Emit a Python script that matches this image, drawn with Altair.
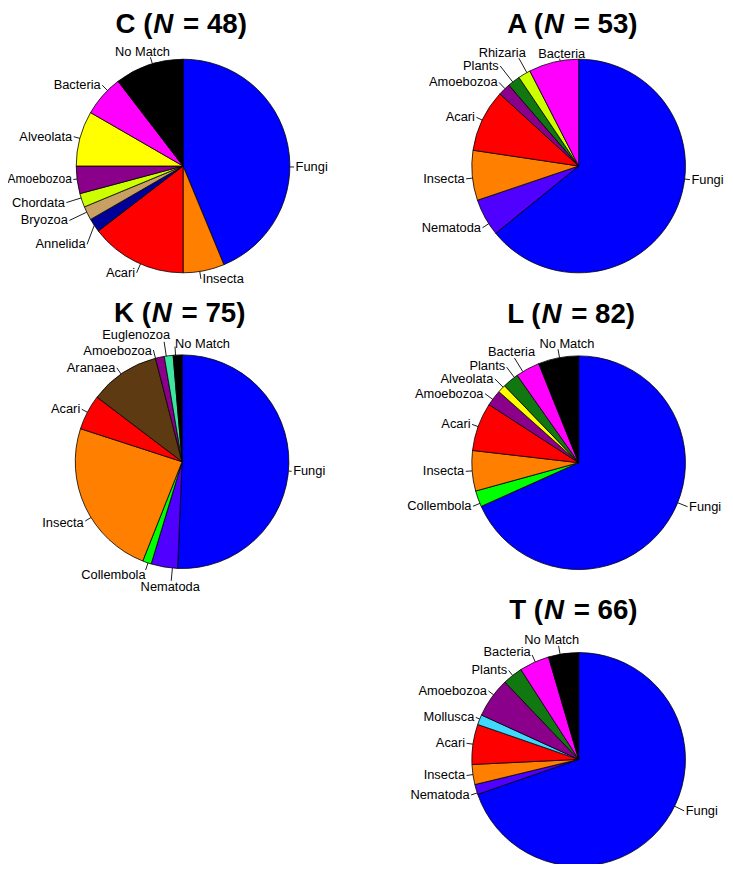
import math
import altair as alt
import pandas as pd

# ---------------- data ----------------
panel_names = ["C", "A", "K", "L", "T"]
panel_n = [48, 53, 75, 82, 66]

C_taxa = ["Fungi", "Insecta", "Acari", "Annelida", "Bryozoa", "Chordata",
          "Amoebozoa", "Alveolata", "Bacteria", "No Match"]
C_counts = [21, 3, 7, 1, 1, 1, 2, 4, 3, 5]

A_taxa = ["Fungi", "Nematoda", "Insecta", "Acari", "Amoebozoa", "Plants",
          "Rhizaria", "Bacteria"]
A_counts = [34, 3, 4, 5, 1, 1, 1, 4]

K_taxa = ["Fungi", "Nematoda", "Collembola", "Insecta", "Acari", "Aranaea",
          "Amoebozoa", "Euglenozoa", "No Match"]
K_counts = [38, 3, 1, 18, 4, 8, 1, 1, 1]

L_taxa = ["Fungi", "Collembola", "Insecta", "Acari", "Amoebozoa", "Alveolata",
          "Plants", "Bacteria", "No Match"]
L_counts = [56, 2, 5, 6, 2, 1, 2, 3, 5]

T_taxa = ["Fungi", "Nematoda", "Insecta", "Acari", "Mollusca", "Amoebozoa",
          "Plants", "Bacteria", "No Match"]
T_counts = [46, 1, 2, 4, 1, 4, 2, 3, 3]

panel_taxa = {"C": C_taxa, "A": A_taxa, "K": K_taxa, "L": L_taxa, "T": T_taxa}
panel_counts = {"C": C_counts, "A": A_counts, "K": K_counts, "L": L_counts, "T": T_counts}

# ---------------- styles ----------------
COLORS = {
    "Fungi": "#0000FF", "Insecta": "#FF8000", "Acari": "#FF0000",
    "Annelida": "#000099", "Bryozoa": "#C8A064", "Chordata": "#CCFF00",
    "Amoebozoa": "#8B008B", "Alveolata": "#FFFF00", "Bacteria": "#FF00FF",
    "No Match": "#000000", "Nematoda": "#5000FF", "Plants": "#117711",
    "Rhizaria": "#CCFF00", "Collembola": "#00FF00", "Aranaea": "#5E3A12",
    "Euglenozoa": "#3CE6A0", "Mollusca": "#40D8FF",
}

# ---------------- layout (page pixels) ----------------
M = 8  # page margin
CENTERS = {"C": (185, 163), "A": (585, 163), "K": (184, 462),
           "L": (585, 463), "T": (585, 763)}
RADIUS = 108
TITLE_POS = {"C": (165, 28.5), "A": (560, 28.5), "K": (163.5, 321),
             "L": (557.5, 322), "T": (560, 621)}
FONT = "Liberation Sans"
LABEL_SIZE = 13
TITLE_SIZE = 28

# label placement hints: la = label angle (deg, clockwise from top),
# lr = label radius factor, align / base / dx / dy / fs = text placement
LABEL_LAYOUT = {
    "C": {
        "Fungi": dict(la=90.5, lr=1.04),
        "Insecta": dict(la=171, lr=1.07),
        "Acari": dict(la=203.5, lr=1.09),
        "Annelida": dict(la=230.8, lr=1.16),
        "Bryozoa": dict(la=244.4, lr=1.18),
        "Chordata": dict(la=252.6, lr=1.145),
        "Amoebozoa": dict(la=263, lr=1.035, fs=12.2),
        "Bacteria": dict(la=315, lr=1.07),
        "No Match": dict(la=343.3, lr=1.063, align="center", base="alphabetic", dx=-8, dy=-1),
    },
    "A": {
        "Fungi": dict(la=97, lr=1.05),
        "Nematoda": dict(la=237.3, lr=1.07),
        "Insecta": dict(la=263.5, lr=1.06),
        "Amoebozoa": dict(la=316.4, lr=1.08),
        "Plants": dict(la=321.9, lr=1.19),
        "Rhizaria": dict(la=331, lr=1.154, align="right", base="alphabetic", dx=7, dy=-1),
        "Bacteria": dict(la=350, lr=1.02, align="center", base="alphabetic", dx=2, dy=-1),
    },
    "K": {
        "Fungi": dict(la=95, lr=1.03),
        "Nematoda": dict(la=185.2, lr=1.12, align="center", base="top", dx=-1, dy=0),
        "Collembola": dict(la=198.6, lr=1.07, align="right", base="top", dy=-1),
        "Insecta": dict(la=238.5, lr=1.064, dy=2),
        "Aranaea": dict(la=325.2, lr=1.07),
        "Amoebozoa": dict(la=345.6, lr=1.08, dy=1),
        "Euglenozoa": dict(la=351.5, lr=1.135, align="right", base="alphabetic", dx=6, dy=-2.5),
        "No Match": dict(la=356.5, lr=1.08, align="left", base="alphabetic", dx=0, dy=1.5),
    },
    "L": {
        "Fungi": dict(la=112, lr=1.1),
        "Collembola": dict(la=247.6, lr=1.07),
        "Amoebozoa": dict(la=306.4, lr=1.09, dy=0.5),
        "Alveolata": dict(la=315, lr=1.11, dy=0),
        "Plants": dict(la=323, lr=1.12, dy=-1.5),
        "Bacteria": dict(la=328.5, lr=1.15, align="center", base="alphabetic", dx=-3, dy=-2),
        "No Match": dict(la=349.7, lr=1.08, align="center", base="alphabetic", dx=9, dy=-1),
    },
    "T": {
        "Fungi": dict(la=116, lr=1.1),
        "Nematoda": dict(la=251.7, lr=1.06),
        "Mollusca": dict(la=292.2, lr=1.04),
        "Amoebozoa": dict(la=307.2, lr=1.06),
        "Bacteria": dict(la=336, lr=1.07, dy=-3),
        "No Match": dict(la=350, lr=1.08, align="center", base="alphabetic", dx=-7, dy=-2),
    },
}

# ---------------- build tables ----------------
slice_rows, rule_rows, label_rows, title_rows = [], [], [], []
for name, n in zip(panel_names, panel_n):
    cx, cy = CENTERS[name]
    cx, cy = cx - M, cy - M
    taxa = panel_taxa[name]
    counts = panel_counts[name]
    total = sum(counts)
    cum = 0
    for taxon, c in zip(taxa, counts):
        s = 360.0 * cum / total
        cum += c
        e = 360.0 * cum / total
        mid = (s + e) / 2
        slice_rows.append(dict(panel=name, taxon=taxon, cx=cx, cy=cy,
                               t0=math.radians(s), t1=math.radians(e),
                               color=COLORS[taxon]))
        lay = LABEL_LAYOUT.get(name, {}).get(taxon, {})
        la = lay.get("la", mid)
        lr = lay.get("lr", 1.06)
        ea = la if s <= la <= e else mid
        ex = cx + RADIUS * math.sin(math.radians(ea))
        ey = cy - RADIUS * math.cos(math.radians(ea))
        ax = cx + lr * RADIUS * math.sin(math.radians(la))
        ay = cy - lr * RADIUS * math.cos(math.radians(la))
        rule_rows.append(dict(x=ex, y=ey, x2=ax, y2=ay))
        side_align = "left" if math.sin(math.radians(la)) > 0 else "right"
        align = lay.get("align", side_align)
        base = lay.get("base", "middle")
        gap = 0
        if base == "middle":
            gap = 1.5 if align == "left" else -1.5
        label_rows.append(dict(label=taxon, x=ax + gap + lay.get("dx", 0),
                               y=ay + lay.get("dy", 0), align=align, base=base,
                               fs=lay.get("fs", LABEL_SIZE)))
    tx, ty = TITLE_POS[name]
    title_rows.append(dict(x=tx - M, y=ty - M, left=f"{name} (", mid="N",
                           right=f"= {n})"))

slices = pd.DataFrame(slice_rows)
rules = pd.DataFrame(rule_rows)
labels = pd.DataFrame(label_rows)
titles = pd.DataFrame(title_rows)

X = lambda f: alt.X(f"{f}:Q", scale=None, axis=None)
Y = lambda f: alt.Y(f"{f}:Q", scale=None, axis=None)

pies = alt.Chart(slices).mark_arc(
    radius=RADIUS, stroke="black", strokeWidth=0.8
).encode(
    x=X("cx"), y=Y("cy"),
    theta=alt.Theta("t0:Q", scale=None),
    theta2=alt.Theta2("t1:Q"),
    color=alt.Color("color:N", scale=None),
)

leaders = alt.Chart(rules).mark_rule(color="black", strokeWidth=0.9).encode(
    x=X("x"), y=Y("y"), x2=alt.X2("x2:Q"), y2=alt.Y2("y2:Q")
)

layers = [pies, leaders]
for (align, base, fs), sub in labels.groupby(["align", "base", "fs"]):
    layers.append(
        alt.Chart(sub.reset_index(drop=True)).mark_text(
            align=align, baseline=base, font=FONT, fontSize=float(fs), color="black"
        ).encode(x=X("x"), y=Y("y"), text="label:N")
    )

title_left = alt.Chart(titles).mark_text(
    align="right", baseline="alphabetic", font=FONT, fontSize=TITLE_SIZE,
    fontWeight="bold", color="black", dx=-11
).encode(x=X("x"), y=Y("y"), text="left:N")
title_mid = alt.Chart(titles).mark_text(
    align="center", baseline="alphabetic", font=FONT, fontSize=TITLE_SIZE,
    fontWeight="bold", fontStyle="italic", color="black"
).encode(x=X("x"), y=Y("y"), text="mid:N")
title_right = alt.Chart(titles).mark_text(
    align="left", baseline="alphabetic", font=FONT, fontSize=TITLE_SIZE,
    fontWeight="bold", color="black", dx=20
).encode(x=X("x"), y=Y("y"), text="right:N")
layers += [title_left, title_mid, title_right]

chart = alt.layer(*layers).properties(
    width=725, height=856, padding=0, autosize=alt.AutoSizeParams(type="none")
).configure_view(stroke=None)

chart.save("out.html", embed_options={"renderer": "svg", "actions": False})
